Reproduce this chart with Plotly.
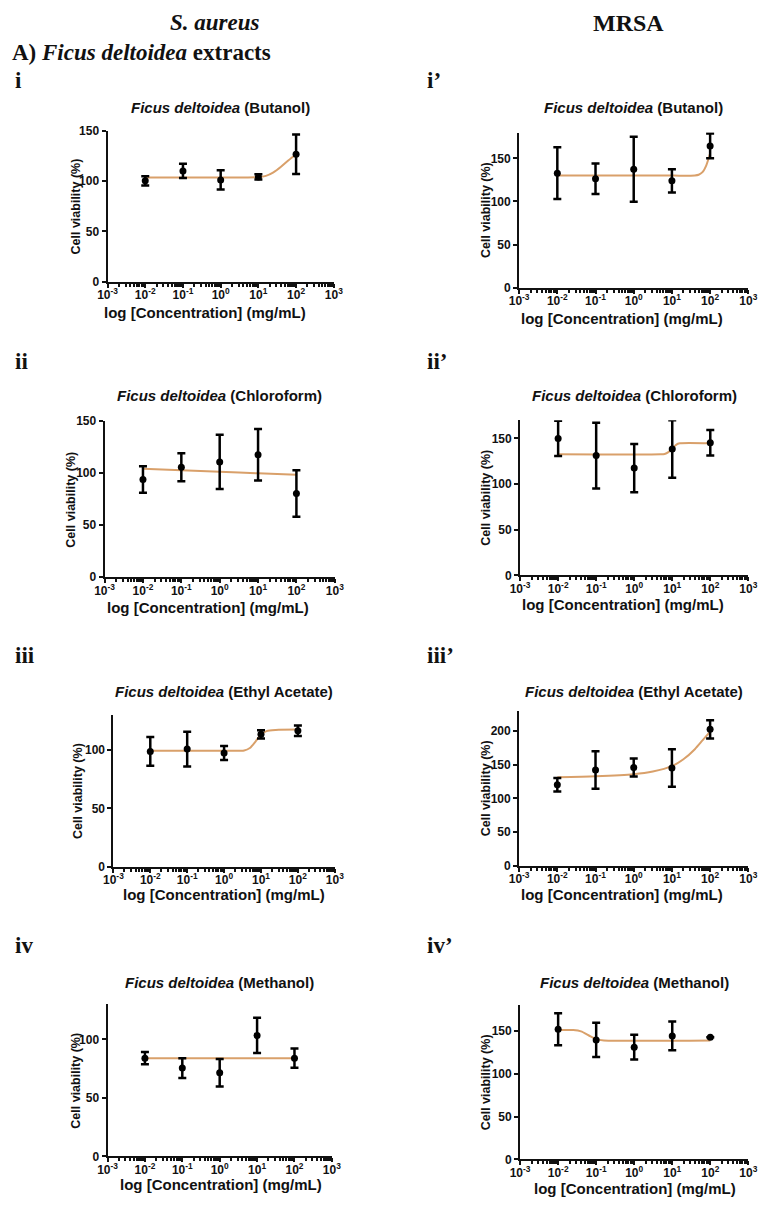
import plotly.graph_objects as go

# ---------------- data ----------------
conc = [0.01, 0.1, 1, 10, 100]

# S. aureus
sa_butanol_mean = [100.1, 110.0, 101.0, 104.0, 126.5]
sa_butanol_sd = [4.5, 7.0, 9.5, 2.6, 19.7]
sa_butanol_fit_x = [0.01, 1, 10, 15.8, 25.1, 39.8, 63.1, 100]
sa_butanol_fit_y = [103.5, 103.5, 103.8, 105.0, 108.5, 114.0, 120.5, 126.5]

sa_chloro_mean = [94.0, 105.7, 110.8, 117.7, 80.4]
sa_chloro_sd = [12.7, 13.4, 26.0, 24.7, 22.3]
sa_chloro_fit_x = [0.01, 0.1, 1, 10, 100]
sa_chloro_fit_y = [104.2, 102.8, 101.3, 99.9, 98.5]

sa_ethyl_mean = [98.6, 100.6, 97.2, 113.2, 116.3]
sa_ethyl_sd = [12.3, 14.8, 6.0, 3.5, 4.5]
sa_ethyl_fit_x = [0.01, 1, 3.5, 5.0, 7.1, 10, 14.1, 25.1, 100]
sa_ethyl_fit_y = [99.2, 99.2, 99.4, 101.5, 107.0, 113.0, 116.0, 117.0, 117.3]

sa_meth_mean = [84.0, 75.5, 71.5, 103.4, 84.0]
sa_meth_sd = [5.3, 8.4, 11.8, 15.0, 8.3]
sa_meth_fit_x = [0.01, 100]
sa_meth_fit_y = [84.0, 84.0]

# MRSA
mr_butanol_mean = [132.8, 126.3, 137.4, 124.0, 164.5]
mr_butanol_sd = [30.0, 17.7, 37.8, 13.5, 14.3]
mr_butanol_fit_x = [0.01, 10, 39.8, 50.1, 63.1, 79.4, 100]
mr_butanol_fit_y = [130.0, 130.0, 130.2, 131.0, 134.0, 142.0, 156.0]

mr_chloro_mean = [150.0, 131.2, 117.5, 138.4, 145.3]
mr_chloro_sd = [19.3, 36.0, 26.4, 31.6, 14.0]
mr_chloro_fit_x = [0.01, 5.0, 6.3, 7.9, 10, 12.6, 15.8, 100]
mr_chloro_fit_y = [132.6, 132.6, 133.0, 135.0, 139.0, 143.0, 144.6, 144.6]

mr_ethyl_mean = [120.4, 142.0, 146.0, 145.0, 202.5]
mr_ethyl_sd = [10.0, 27.8, 13.3, 27.8, 13.5]
mr_ethyl_fit_x = [0.01, 0.1, 1, 3.16, 10, 20, 39.8, 63.1, 100]
mr_ethyl_fit_y = [131.5, 133.0, 136.0, 140.0, 148.0, 158.0, 173.0, 186.0, 199.0]

mr_meth_mean = [151.9, 139.6, 131.1, 144.2, 142.7]
mr_meth_sd = [18.7, 19.9, 14.5, 16.8, 0.0]
mr_meth_fit_x = [0.01, 0.025, 0.04, 0.063, 0.1, 0.16, 100]
mr_meth_fit_y = [151.2, 151.0, 149.5, 145.0, 140.5, 139.0, 138.8]

x_tick_vals = [0.001, 0.01, 0.1, 1, 10, 100, 1000]
x_tick_text = ["10<sup>-3</sup>", "10<sup>-2</sup>", "10<sup>-1</sup>", "10<sup>0</sup>",
               "10<sup>1</sup>", "10<sup>2</sup>", "10<sup>3</sup>"]

panel_titles = ["(Butanol)", "(Butanol)", "(Chloroform)", "(Chloroform)",
                "(Ethyl Acetate)", "(Ethyl Acetate)", "(Methanol)", "(Methanol)"]
panel_labels = ["i", "i\u2019", "ii", "ii\u2019", "iii", "iii\u2019", "iv", "iv\u2019"]
y_label = "Cell viability (%)"
x_label = "log [Concentration] (mg/mL)"

# ---------------- layout geometry ----------------
W, H = 770, 1205
CURVE = "#d9a06a"

panels = [
    # (mean, sd, fit_x, fit_y, box(l, r, top, bottom), ymax, yticks, ylab_x, xlab(x, y), title_y, label_xy)
    (sa_butanol_mean, sa_butanol_sd, sa_butanol_fit_x, sa_butanol_fit_y, (100, 332, 125, 278), 150, [0, 50, 100, 150], 68, (200, 309), 102, (3, 74)),
    (mr_butanol_mean, mr_butanol_sd, mr_butanol_fit_x, mr_butanol_fit_y, (522, 757, 127, 284), 180, [0, 50, 100, 150], 488, (627, 315), 102, (426, 74)),
    (sa_chloro_mean, sa_chloro_sd, sa_chloro_fit_x, sa_chloro_fit_y, (97, 333, 419, 577), 150, [0, 50, 100, 150], 63, (203, 608), 393, (3, 359)),
    (mr_chloro_mean, mr_chloro_sd, mr_chloro_fit_x, mr_chloro_fit_y, (523, 757, 418, 575), 170, [0, 50, 100, 150], 488, (629, 605), 393, (426, 359)),
    (sa_ethyl_mean, sa_ethyl_sd, sa_ethyl_fit_x, sa_ethyl_fit_y, (106, 333, 716, 870), 130, [0, 50, 100], 70, (219, 898), 693, (3, 656)),
    (mr_ethyl_mean, mr_ethyl_sd, mr_ethyl_fit_x, mr_ethyl_fit_y, (522, 757, 712, 869), 230, [0, 50, 100, 150, 200], 488, (627, 898), 693, (426, 656)),
    (sa_meth_mean, sa_meth_sd, sa_meth_fit_x, sa_meth_fit_y, (100, 330, 1009, 1163), 130, [0, 50, 100], 68, (216, 1191), 987, (3, 950)),
    (mr_meth_mean, mr_meth_sd, mr_meth_fit_x, mr_meth_fit_y, (523, 757, 1010, 1166), 180, [0, 50, 100, 150], 488, (641, 1195), 987, (426, 950)),
]

minor_vals = [m * 10.0 ** e for e in range(-3, 3) for m in range(2, 10)]

fig = go.Figure()
annotations = []
SANS = "Liberation Sans, Arial, sans-serif"
SERIF = "Liberation Serif, Times New Roman, serif"

for i, (mean, sd, fx, fy, box, ymax, yticks, ylx, xl, ty, lab) in enumerate(panels):
    n = i + 1
    xa = "x" if n == 1 else f"x{n}"
    ya = "y" if n == 1 else f"y{n}"
    l, r, t, b = box
    fig.add_trace(go.Scatter(x=fx, y=fy, mode="lines", xaxis=xa, yaxis=ya,
                             line=dict(color=CURVE, width=2, shape="spline", smoothing=0.7),
                             showlegend=False, hoverinfo="skip"))
    fig.add_trace(go.Scatter(x=conc, y=mean, mode="markers", xaxis=xa, yaxis=ya,
                             marker=dict(color="black", size=7),
                             error_y=dict(type="data", array=sd, visible=True,
                                          color="black", thickness=2.5, width=4),
                             showlegend=False))
    axis_common = dict(showline=True, linecolor="#111", linewidth=2, showgrid=False,
                       zeroline=False, ticks="outside", ticklen=4, tickwidth=2,
                       tickcolor="#111",
                       tickfont=dict(family=SANS, size=12, color="#111", weight="bold"))
    fig.layout[f"xaxis{'' if n == 1 else n}"] = dict(
        axis_common, type="log", range=[-3, 3], domain=[l / W, r / W],
        anchor=ya, tickmode="array", tickvals=x_tick_vals, ticktext=x_tick_text,
        ticklabelstandoff=-3,
        minor=dict(ticks="outside", ticklen=3, tickwidth=1.5, tickcolor="#111",
                   tickvals=minor_vals, showgrid=False))
    fig.layout[f"yaxis{'' if n == 1 else n}"] = dict(
        axis_common, range=[0, ymax], domain=[1 - b / H, 1 - t / H],
        anchor=xa, tickmode="array", tickvals=yticks)
    cx = (l + r) / 2 / W
    annotations.append(dict(x=cx, y=1 - ty / H, xref="paper", yref="paper",
                            text=f"<b><i>Ficus deltoidea</i> {panel_titles[i]}</b>",
                            showarrow=False, xanchor="center", yanchor="middle",
                            font=dict(family=SANS, size=15, color="#111")))
    annotations.append(dict(x=xl[0] / W, y=1 - xl[1] / H, xref="paper", yref="paper",
                            text=f"<b>{x_label}</b>", showarrow=False,
                            xanchor="center", yanchor="middle",
                            font=dict(family=SANS, size=15, color="#111")))
    annotations.append(dict(x=ylx / W, y=1 - (t + b) / 2 / H, xref="paper", yref="paper",
                            text=f"<b>{y_label}</b>", showarrow=False, textangle=-90,
                            xanchor="center", yanchor="middle",
                            font=dict(family=SANS, size=12.5, color="#111")))
    annotations.append(dict(x=lab[0] / W, y=1 - lab[1] / H, xref="paper", yref="paper",
                            text=f"<b>{panel_labels[i]}</b>", showarrow=False,
                            xanchor="left", yanchor="middle",
                            font=dict(family=SERIF, size=23, color="#111")))

annotations.append(dict(x=210 / W, y=1 - 16 / H, xref="paper", yref="paper",
                        text="<b><i>S. aureus</i></b>", showarrow=False,
                        xanchor="center", yanchor="middle",
                        font=dict(family=SERIF, size=23, color="#111")))
annotations.append(dict(x=634 / W, y=1 - 16 / H, xref="paper", yref="paper",
                        text="<b>MRSA</b>", showarrow=False,
                        xanchor="center", yanchor="middle",
                        font=dict(family=SERIF, size=24, color="#111")))
annotations.append(dict(x=0, y=1 - 46 / H, xref="paper", yref="paper",
                        text="<b>A) <i>Ficus deltoidea</i> extracts</b>", showarrow=False,
                        xanchor="left", yanchor="middle",
                        font=dict(family=SERIF, size=23, color="#111")))

fig.update_layout(width=W, height=H, margin=dict(l=0, r=0, t=0, b=0),
                  paper_bgcolor="white", plot_bgcolor="white",
                  annotations=annotations, showlegend=False)

fig.write_html("out.html", config={"displayModeBar": False},
               post_script="document.body.style.margin='0';document.body.style.overflow='hidden';")
